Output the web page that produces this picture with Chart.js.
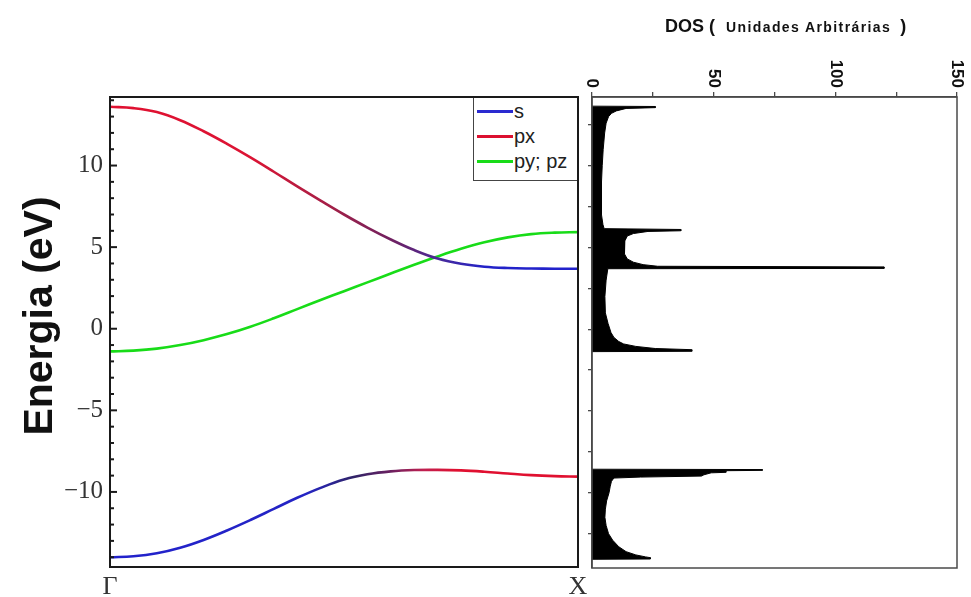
<!DOCTYPE html>
<html>
<head>
<meta charset="utf-8">
<script src="https://cdn.jsdelivr.net/npm/chart.js@4.4.1/dist/chart.umd.min.js"></script>
<style>
html,body{margin:0;padding:0;background:#fff;}
body{width:971px;height:597px;overflow:hidden;position:relative;}
#c1{position:absolute;left:0;top:0;}
#c2{position:absolute;left:580px;top:0;}
#legend{position:absolute;left:473px;top:98px;width:104px;height:83px;box-sizing:border-box;border-left:1.5px solid #444;border-bottom:1.5px solid #444;background:#fff;font-family:"Liberation Sans",Arial,sans-serif;font-size:20px;color:#222;}
.row{position:absolute;left:3px;height:24px;display:flex;align-items:center;}
.swatch{width:36px;height:3px;}
.lab{margin-left:1px;line-height:24px;}
#dosTitle{position:absolute;left:665px;top:16px;white-space:nowrap;font-family:"Liberation Sans",Arial,sans-serif;color:#111;}
#dosTitle .a{font-size:18px;font-weight:bold;}
#dosTitle .b{font-size:14px;font-weight:bold;letter-spacing:1.4px;margin:0 9px 0 11px;}
#yTitle{position:absolute;left:-112px;top:291px;width:300px;height:50px;line-height:50px;text-align:center;transform:rotate(-90deg);transform-origin:150px 25px;font-family:"Liberation Sans",Arial,sans-serif;font-weight:bold;font-size:41px;color:#111;white-space:nowrap;}
</style>
</head>
<body>
<canvas id="c1" width="590" height="597"></canvas>
<canvas id="c2" width="391" height="597"></canvas>
<div id="legend"></div>
<div id="yTitle">Energia (eV)</div>
<div id="dosTitle"><span class="a">DOS (</span><span class="b">Unidades Arbitrárias</span><span class="a">)</span></div>
<script>
// ---------- data ----------
const kPoints   = [0,0.05,0.1,0.15,0.2,0.25,0.3,0.35,0.4,0.45,0.5,0.55,0.6,0.65,0.7,0.75,0.8,0.85,0.9,0.95,1];
const bandUpper = [13.6,13.52,13.28,12.78,12.1,11.33,10.5,9.62,8.72,7.85,7.0,6.2,5.47,4.82,4.3,3.98,3.8,3.72,3.69,3.68,3.68];
const bandPyPz  = [-1.39,-1.34,-1.22,-1.0,-0.7,-0.33,0.12,0.64,1.2,1.76,2.3,2.84,3.38,3.92,4.43,4.9,5.3,5.6,5.8,5.89,5.92];
const bandLower = [-14.0,-13.94,-13.76,-13.42,-12.94,-12.36,-11.72,-11.04,-10.36,-9.75,-9.24,-8.92,-8.74,-8.66,-8.65,-8.68,-8.76,-8.87,-8.97,-9.03,-9.06];

const kTickLabels = ['Γ','X'];
const energyMajorTicks = [-10,-5,0,5,10];
const legendLabels = ['s','px','py; pz'];
const legendColors = ['#2a2ad0','#dc1030','#18dc18'];

// DOS profile (energy in eV, value in arbitrary units)
const dosUpperE = [13.64,13.62,13.55,13.5,13.35,13.2,13.0,12.6,12.0,11.0,10.0,9.0,8.0,7.0,6.4,6.15,6.1,6.02,5.98,5.85,5.7,5.4,5.0,4.6,4.3,4.1,3.95,3.85,3.81,3.72,3.70,3.0,2.0,1.0,0.35,-0.2,-0.5,-0.75,-0.9,-1.05,-1.18,-1.25,-1.35,-1.37];
const dosUpperV = [0,26,26,14,10,8,6.8,5.8,5.2,4.6,4.2,3.9,3.8,4.0,4.5,5,36.5,36.5,23,17,14.5,13.5,13.2,13.5,14.5,17,21,27,120,120,6.5,5.8,5.3,5.5,6.6,7.8,9,11,13,18,26,41,41,0];
const dosLowerE = [-8.56,-8.58,-8.63,-8.65,-8.75,-8.78,-8.9,-8.98,-9.04,-9.1,-9.3,-9.6,-10.0,-10.5,-11.0,-11.5,-12.0,-12.5,-12.9,-13.3,-13.6,-13.8,-13.92,-13.97,-14.05,-14.07];
const dosLowerV = [0,70,70,55,55,49,46,45,20,9,8,7.5,7,6,5.5,5.3,5.8,6.8,8.5,11,14,18,22,24,24,0];
const dosTickValues = [0,50,100,150];

// ---------- helpers ----------
function gradient(stops){
  return (ctx) => {
    const ch = ctx.chart, a = ch.chartArea;
    if (!a) return stops[0][1];
    const g = ch.ctx.createLinearGradient(a.left,0,a.right,0);
    stops.forEach(s => g.addColorStop(s[0], s[1]));
    return g;
  };
}
const framePlugin = {
  id:'frame',
  afterDraw(chart, args, opts){
    const {ctx, chartArea:a} = chart;
    ctx.save();
    ctx.strokeStyle = opts.color; ctx.lineWidth = opts.width;
    ctx.strokeRect(a.left, a.top, a.right-a.left, a.bottom-a.top);
    if (opts.inTicks){
      const s = chart.scales.y;
      ctx.lineWidth = 2;
      s.ticks.forEach(t => {
        const y = s.getPixelForValue(t.value);
        const len = (t.value % 5 === 0) ? 7 : 4;
        ctx.beginPath(); ctx.moveTo(a.left-1, y); ctx.lineTo(a.left+len, y); ctx.stroke();
      });
    }
    ctx.restore();
  }
};
const dosLabelPlugin = {
  id:'dosLabels',
  afterDraw(chart){
    const s = chart.scales.x, ctx = chart.ctx;
    ctx.save();
    ctx.font = 'bold 17px "Liberation Sans", Arial, sans-serif';
    ctx.fillStyle = '#111';
    ctx.textAlign = 'right'; ctx.textBaseline = 'middle';
    dosTickValues.forEach(v => {
      ctx.save();
      ctx.translate(s.getPixelForValue(v), s.bottom - 9);
      ctx.rotate(Math.PI/2);
      ctx.fillText(String(v), 0, 0);
      ctx.restore();
    });
    ctx.restore();
  }
};

const yMin = -14.6, yMax = 14.2;

// ---------- band structure ----------
new Chart(document.getElementById('c1'), {
  type:'line',
  data:{ datasets:[
    { data: kPoints.map((k,i)=>({x:k,y:bandLower[i]})), borderWidth:2.6, pointRadius:0, fill:false, tension:0.4,
      borderColor: gradient([[0,'#2222cc'],[0.42,'#2424c4'],[0.52,'#302468'],[0.6,'#6a2060'],[0.67,'#c02050'],[0.74,'#e01030'],[1,'#e01030']]) },
    { data: kPoints.map((k,i)=>({x:k,y:bandUpper[i]})), borderWidth:2.6, pointRadius:0, fill:false, tension:0.4,
      borderColor: gradient([[0,'#e01030'],[0.3,'#dc1434'],[0.48,'#a02048'],[0.6,'#702060'],[0.7,'#4a2a98'],[0.8,'#2222c8'],[1,'#2222cc']]) },
    { data: kPoints.map((k,i)=>({x:k,y:bandPyPz[i]})), borderWidth:2.6, pointRadius:0, fill:false, tension:0.4,
      borderColor:'#18dc18' }
  ]},
  options:{
    responsive:false, animation:false, events:[],
    layout:{padding:{left:0,right:12,top:97,bottom:0}},
    plugins:{ legend:{display:false}, tooltip:{enabled:false},
      frame:{color:'#1a1a1a', width:2, inTicks:true} },
    scales:{
      x:{ type:'linear', min:0, max:1,
        afterBuildTicks: s => { s.ticks = [{value:0},{value:1}]; },
        afterFit: s => { s.height = 30; s.paddingLeft = 0; s.paddingRight = 0; },
        grid:{display:false, drawTicks:false}, border:{display:false},
        ticks:{ autoSkip:false, maxRotation:0, padding:5, color:'#333',
          font:{family:'"Liberation Serif", "Times New Roman", serif', size:26},
          callback: v => v === 0 ? kTickLabels[0] : kTickLabels[1] } },
      y:{ type:'linear', min:yMin, max:yMax,
        afterBuildTicks: s => { const t=[]; for (let v=Math.ceil(yMin); v<=Math.floor(yMax); v++) t.push({value:v}); s.ticks = t; },
        afterFit: s => { s.width = 110; s.paddingTop = 0; s.paddingBottom = 0; },
        grid:{display:false, drawTicks:false}, border:{display:false},
        ticks:{ padding:7, color:'#333', autoSkip:false,
          font:{family:'"Liberation Serif", "Times New Roman", serif', size:25},
          callback: v => energyMajorTicks.includes(v) ? (v < 0 ? '\u2212' + Math.abs(v) : String(v)) : '' } }
    }
  },
  plugins:[framePlugin]
});

// ---------- DOS ----------
new Chart(document.getElementById('c2'), {
  type:'line',
  data:{ datasets:[
    { data: dosUpperE.map((e,i)=>({x:dosUpperV[i], y:e})), borderColor:'#000', backgroundColor:'#000',
      borderWidth:1, pointRadius:0, tension:0, fill:'origin' },
    { data: dosLowerE.map((e,i)=>({x:dosLowerV[i], y:e})), borderColor:'#000', backgroundColor:'#000',
      borderWidth:1, pointRadius:0, tension:0, fill:'origin' }
  ]},
  options:{
    indexAxis:'y', responsive:false, animation:false, events:[],
    layout:{padding:{left:0,right:14,top:0,bottom:29}},
    plugins:{ legend:{display:false}, tooltip:{enabled:false}, filler:{propagate:false},
      frame:{color:'#4a4a4a', width:1.5, inTicks:false} },
    scales:{
      x:{ type:'linear', position:'top', min:0, max:150,
        afterFit: s => { s.height = 97; s.paddingLeft = 0; s.paddingRight = 0; },
        ticks:{ stepSize:25, display:false },
        grid:{ drawOnChartArea:false, drawTicks:true, tickLength:5, color:'#4a4a4a', lineWidth:1.3 },
        border:{ display:true, color:'#4a4a4a', width:1.5 } },
      y:{ type:'linear', position:'left', min:yMin, max:yMax,
        afterBuildTicks: s => { const t=[]; for (let v=-12.5; v<=12.5; v+=2.5) t.push({value:v}); s.ticks = t; },
        afterFit: s => { s.width = 12; s.paddingTop = 0; s.paddingBottom = 0; },
        ticks:{ display:false },
        grid:{ drawOnChartArea:false, drawTicks:true, tickLength:4, color:'#4a4a4a', lineWidth:1.3 },
        border:{ display:true, color:'#4a4a4a', width:1.5 } }
    }
  },
  plugins:[framePlugin, dosLabelPlugin]
});

// ---------- legend (HTML) ----------
const lg = document.getElementById('legend');
legendLabels.forEach((name, i) => {
  const r = document.createElement('div');
  r.className = 'row';
  r.style.top = (1 + 25*i) + 'px';
  const sw = document.createElement('span'); sw.className = 'swatch'; sw.style.background = legendColors[i];
  const tx = document.createElement('span'); tx.className = 'lab'; tx.textContent = name;
  r.appendChild(sw); r.appendChild(tx); lg.appendChild(r);
});
</script>
</body>
</html>
